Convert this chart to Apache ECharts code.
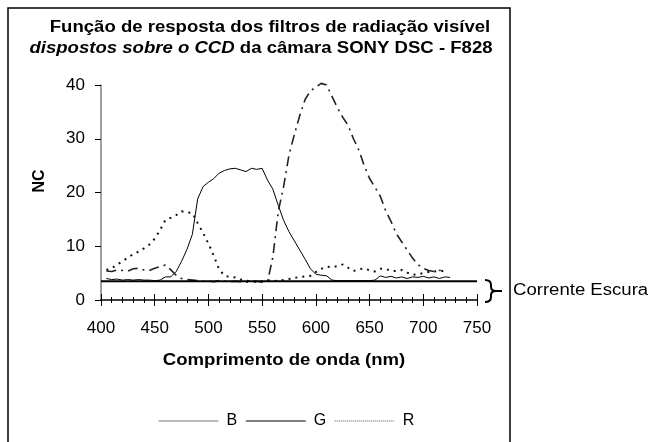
<!DOCTYPE html>
<html>
<head>
<meta charset="utf-8">
<script src="https://cdn.jsdelivr.net/npm/echarts@6/dist/echarts.min.js"></script>
<style>
  html, body { margin: 0; padding: 0; background: #fff; }
  #chart { width: 651px; height: 442px; }
</style>
</head>
<body>
<div id="chart"></div>
<script>
// comprimento de onda (nm)
const wavelengths = [405, 410, 415, 420, 425, 430, 435, 440, 445, 450, 455, 460, 465, 470, 475, 480,
  485, 490, 495, 500, 505, 510, 515, 520, 525, 530, 535, 540, 545, 550, 555, 560, 565, 570, 575,
  580, 585, 590, 595, 600, 605, 610, 615, 620, 625, 630, 635, 640, 645, 650, 655, 660, 665, 670,
  675, 680, 685, 690, 695, 700, 705, 710, 715, 720, 725]

// filtro B (pontilhado)
const valuesB = [5.6, 5.9, 6.6, 7.2, 7.9, 8.5, 9.0, 9.6, 10.3, 11.4, 13.0, 14.9, 15.3, 15.8, 16.5, 16.3,
  16.2, 14.3, 12.5, 10.5, 8.2, 5.7, 4.5, 4.3, 4.2, 3.8, 3.6, 3.5, 3.4, 3.5, 3.7, 3.5, 3.6, 3.7, 3.9,
  4.1, 4.3, 4.4, 4.5, 5.2, 5.8, 6.2, 6.1, 6.3, 6.6, 6.0, 5.4, 5.7, 5.9, 5.5, 5.3, 5.8, 5.8, 5.4,
  5.4, 5.6, 5.1, 4.7, 4.8, 5.0, 5.2, 5.3, 5.4, 5.4, null]

// filtro G (contínuo)
const valuesG = [4.0, 3.8, 3.9, 3.7, 3.8, 3.7, 3.8, 3.7, 3.7, 3.6, 3.7, 4.3, 4.3, 5.3, 7.2, 9.4,
  12.2, 18.8, 21.1, 21.9, 22.6, 23.6, 24.1, 24.4, 24.5, 24.2, 23.9, 24.5, 24.3, 24.5, 22.3, 20.6, 17.6, 14.8, 12.7,
  11.0, 9.3, 7.6, 5.8, 4.8, 4.6, 4.5, 3.7, 3.6, 3.6, 3.6, 3.6, 3.6, 3.6, 3.6, 3.7, 4.5, 4.2, 4.4,
  4.1, 4.3, 4.0, 4.3, 4.2, 4.4, 4.1, 4.3, 4.0, 4.3, 4.2]

// filtro R (traço-ponto)
const valuesR = [5.4, 5.3, 5.6, 5.5, 5.4, 5.8, 5.9, 5.6, 5.5, 5.9, 6.2, 6.5, 5.6, 4.6, 4.0, 3.8,
  3.7, 3.6, 3.5, 3.5, 3.4, 3.6, 3.5, 3.4, 3.5, 3.4, 3.3, 3.4, 3.5, 3.3, 3.4, 8.0, 16.5, 21.1, 27.0,
  30.8, 34.3, 37.3, 38.9, 39.6, 40.3, 40.0, 37.9, 35.8, 34.0, 32.5, 30.0, 27.9, 25.0, 22.6, 21.0, 19.3, 16.6, 14.6,
  12.3, 10.8, 9.3, 7.8, 6.6, 5.9, 5.5, 5.3, 5.5, 5.6, null]

// corrente escura
const darkCurrent = 3.5
const darkRange = [400, 750]

const yTicks = [0, 10, 20, 30, 40]
const xTicks = [400, 450, 500, 550, 600, 650, 700, 750]

const FONT = '"Liberation Sans", Arial, sans-serif'
const STRETCH = 1.16 // o texto do original aparece esticado na horizontal
const pairs = (vals) => wavelengths.map((w, i) => [w, vals[i]])
const centered = { align: 'center', verticalAlign: 'middle', textAlign: 'center', textVerticalAlign: 'middle' }
const braceStroke = { fill: 'none', stroke: '#000', lineWidth: 2 }
const noSymbol = { color: 'rgba(0,0,0,0)', borderWidth: 0, opacity: 0 }

const dom = echarts.init(document.getElementById('chart'))

const option = {
  animation: false,
  grid: { left: 101, right: 174, top: 85, bottom: 142 },
  xAxis: [
    {
      type: 'value',
      min: xTicks[0],
      max: xTicks[xTicks.length - 1],
      interval: 50,
      splitLine: { show: false },
      axisLine: { lineStyle: { color: '#000', width: 1.5 } },
      axisTick: { length: 6, lineStyle: { color: '#000' } },
      minorTick: { show: true, splitNumber: 5, length: 3, lineStyle: { color: '#000' } },
      axisLabel: { color: '#000', fontSize: 17, fontFamily: FONT, margin: 20 }
    },
    {
      type: 'value',
      position: 'bottom',
      min: xTicks[0],
      max: xTicks[xTicks.length - 1],
      interval: 50,
      splitLine: { show: false },
      axisLine: { show: false },
      axisTick: { inside: true, length: 6, lineStyle: { color: '#000' } },
      minorTick: { show: true, splitNumber: 5, length: 3, lineStyle: { color: '#000' } },
      axisLabel: { show: false }
    }
  ],
  yAxis: {
    type: 'value',
    min: yTicks[0],
    max: yTicks[yTicks.length - 1],
    interval: 10,
    splitLine: { show: false },
    axisLine: { show: true, lineStyle: { color: '#808080', width: 1.5 } },
    axisTick: { show: true, length: 6, lineStyle: { color: '#000' } },
    axisLabel: { color: '#000', fontSize: 17, fontFamily: FONT, margin: 16 }
  },
  legend: {
    left: 158,
    top: 413,
    padding: 0,
    itemWidth: 60,
    itemHeight: 14,
    itemGap: 8,
    textStyle: { color: '#000', fontSize: 16, fontFamily: FONT, padding: [0, 0, 0, 3] },
    data: [
      { name: 'B', itemStyle: noSymbol, lineStyle: { type: 'solid', color: '#777', width: 1 } },
      { name: 'G', itemStyle: noSymbol, lineStyle: { type: 'solid', color: '#000', width: 1.2 } },
      { name: 'R', itemStyle: noSymbol, lineStyle: { type: [1, 1], color: '#555', width: 1 } }
    ]
  },
  series: [
    {
      name: 'B',
      type: 'line',
      data: pairs(valuesB),
      symbol: 'none',
      clip: false,
      itemStyle: { color: '#111' },
      lineStyle: { color: '#111', width: 2, type: [2, 5] }
    },
    {
      name: 'G',
      type: 'line',
      data: pairs(valuesG),
      symbol: 'none',
      clip: false,
      itemStyle: { color: '#000' },
      lineStyle: { color: '#000', width: 1 }
    },
    {
      name: 'R',
      type: 'line',
      data: pairs(valuesR),
      symbol: 'none',
      clip: false,
      itemStyle: { color: '#222' },
      lineStyle: { color: '#222', width: 1.6, type: [10, 5, 2, 5] }
    },
    {
      name: 'Corrente Escura',
      type: 'line',
      data: darkRange.map((w) => [w, darkCurrent]),
      symbol: 'none',
      itemStyle: { color: '#000' },
      lineStyle: { color: '#000', width: 2 }
    }
  ],
  graphic: [
    {
      type: 'rect',
      shape: { x: 8, y: 8, width: 502, height: 460 },
      style: { fill: 'none', stroke: '#000', lineWidth: 1.5 },
      silent: true
    },
    {
      type: 'text',
      x: 270, y: 28, scaleX: STRETCH,
      style: Object.assign({
        text: 'Função de resposta dos filtros de radiação visível',
        font: 'bold 16px ' + FONT, fill: '#000'
      }, centered)
    },
    {
      type: 'text',
      x: 261, y: 49, scaleX: STRETCH,
      style: Object.assign({
        text: '{i|dispostos sobre o CCD}{b| da câmara SONY DSC - F828}',
        rich: {
          i: { font: 'italic bold 16px ' + FONT, fill: '#000' },
          b: { font: 'bold 16px ' + FONT, fill: '#000' }
        }
      }, centered)
    },
    {
      type: 'text',
      x: 40, y: 181,
      rotation: Math.PI / 2,
      style: Object.assign({ text: 'NC', font: 'bold 16px ' + FONT, fill: '#000' }, centered)
    },
    {
      type: 'text',
      x: 284, y: 361, scaleX: STRETCH,
      style: Object.assign({ text: 'Comprimento de onda (nm)', font: 'bold 16px ' + FONT, fill: '#000' }, centered)
    },
    // chave "}" da corrente escura
    { type: 'bezierCurve', shape: { x1: 485, y1: 280, cpx1: 491, cpy1: 280, x2: 491, y2: 285 }, style: braceStroke },
    { type: 'line', shape: { x1: 491, y1: 285, x2: 491, y2: 287 }, style: braceStroke },
    { type: 'bezierCurve', shape: { x1: 491, y1: 287, cpx1: 491, cpy1: 291, x2: 496, y2: 291 }, style: braceStroke },
    { type: 'line', shape: { x1: 496, y1: 291, x2: 502, y2: 291 }, style: braceStroke },
    { type: 'bezierCurve', shape: { x1: 496, y1: 291, cpx1: 491, cpy1: 291, x2: 491, y2: 295 }, style: braceStroke },
    { type: 'line', shape: { x1: 491, y1: 295, x2: 491, y2: 297 }, style: braceStroke },
    { type: 'bezierCurve', shape: { x1: 491, y1: 297, cpx1: 491, cpy1: 302, x2: 485, y2: 302 }, style: braceStroke },
    {
      type: 'text',
      x: 513, y: 291, scaleX: STRETCH,
      style: {
        text: 'Corrente Escura', font: '16px ' + FONT, fill: '#000',
        align: 'left', verticalAlign: 'middle', textAlign: 'left', textVerticalAlign: 'middle'
      }
    }
  ]
}

dom.setOption(option)
</script>
</body>
</html>
